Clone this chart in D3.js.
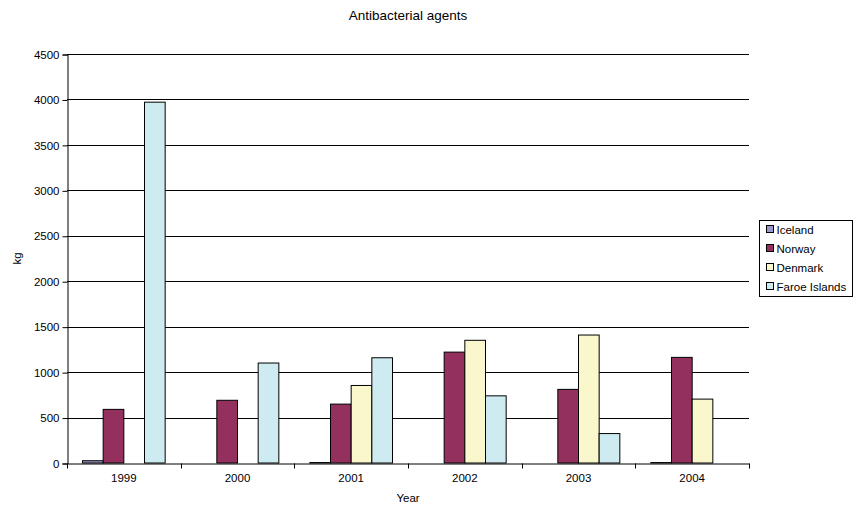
<!DOCTYPE html>
<html>
<head>
<meta charset="utf-8">
<script src="https://cdn.jsdelivr.net/npm/d3@7"></script>
<style>
  html, body { margin: 0; padding: 0; background: #fff; }
  svg text { font-family: "Liberation Sans", Arial, sans-serif; fill: #000; }
</style>
</head>
<body>
<svg id="chart" width="854" height="507"></svg>
<script>
// Antibacterial agents used, kg per year and country
const years = ["1999", "2000", "2001", "2002", "2003", "2004"];
const countries = ["Iceland", "Norway", "Denmark", "Faroe Islands"];
const iceland = [25, 0, 5, 0, 0, 5];
const norway = [590, 690, 648, 1220, 810, 1162];
const denmark = [0, 0, 853, 1350, 1408, 703];
const faroe = [3970, 1100, 1158, 739, 324, 0];
const yTicks = [0, 500, 1000, 1500, 2000, 2500, 3000, 3500, 4000, 4500];
const colors = ["#9999CC", "#93305E", "#FAF7CD", "#CDEBF0"];

const seriesValues = [iceland, norway, denmark, faroe];

const svg = d3.select("#chart");
const margin = { left: 67, right: 105, top: 54, bottom: 44 };
const W = 854, H = 507;
const x0 = margin.left, x1 = W - margin.right;
const yTop = margin.top, yBot = H - margin.bottom;

const x = d3.scaleBand().domain(years).range([x0, x1]).paddingInner(0).paddingOuter(0);
// Clustered bars: 4 bars per category with a gap of 1.5 bar widths
const barW = x.bandwidth() / 5.5;
const y = d3.scaleLinear().domain([0, 4500]).range([yBot, yTop]);

// Gridlines
svg.append("g").selectAll("line").data(yTicks.filter(d => d > 0)).join("line")
  .attr("x1", x0).attr("x2", x1)
  .attr("y1", d => Math.round(y(d)) + 0.5).attr("y2", d => Math.round(y(d)) + 0.5)
  .attr("stroke", "#000").attr("stroke-width", 1);

// Bars
const groups = svg.append("g").selectAll("g").data(years).join("g")
  .attr("transform", d => `translate(${x(d)},0)`);
groups.selectAll("rect")
  .data((yr, i) => countries.map((c, j) => ({ c, j, v: seriesValues[j][i] })).filter(d => d.v > 0))
  .join("rect")
  .attr("x", d => barW * 0.75 + d.j * barW)
  .attr("y", d => y(d.v))
  .attr("width", barW)
  .attr("height", d => yBot - y(d.v))
  .attr("fill", d => colors[d.j])
  .attr("stroke", "#000")
  .attr("stroke-width", 1);

// Axes
const yAxis = d3.axisLeft(y).tickValues(yTicks).tickSize(5).tickPadding(3).tickFormat(d3.format("d"));
const gy = svg.append("g").attr("transform", `translate(${x0 + 0.5},0.5)`).call(yAxis);
gy.selectAll("text").style("font-size", "11.5px");
gy.select(".domain").attr("stroke", "#000");

const xAxis = d3.axisBottom(x).tickSize(0).tickPadding(10);
const gx = svg.append("g").attr("transform", `translate(0,${yBot + 0.5})`).call(xAxis);
gx.selectAll("text").style("font-size", "11.5px");
gx.select(".domain").attr("stroke", "#000");
// Tick marks between categories
gx.append("g").selectAll("line").data(d3.range(years.length + 1)).join("line")
  .attr("x1", i => Math.round(x0 + i * x.bandwidth()) + 0.5)
  .attr("x2", i => Math.round(x0 + i * x.bandwidth()) + 0.5)
  .attr("y1", 0).attr("y2", 5).attr("stroke", "#000");

// Titles
svg.append("text").attr("x", (x0 + x1) / 2).attr("y", 20).attr("text-anchor", "middle")
  .style("font-size", "13.5px").text("Antibacterial agents");
svg.append("text").attr("x", (x0 + x1) / 2).attr("y", 502).attr("text-anchor", "middle")
  .style("font-size", "11.5px").text("Year");
svg.append("text").attr("transform", `translate(21,${(yTop + yBot) / 2}) rotate(-90)`)
  .attr("text-anchor", "middle").style("font-size", "11.5px").text("kg");

// Legend
const lg = svg.append("g").attr("transform", "translate(759.5,220.5)");
lg.append("rect").attr("width", 93).attr("height", 76).attr("fill", "#fff").attr("stroke", "#000");
const items = lg.selectAll("g").data(countries).join("g")
  .attr("transform", (d, i) => `translate(7,${9 + i * 19})`);
items.append("rect").attr("x", 0).attr("y", -4).attr("width", 7).attr("height", 7)
  .attr("fill", (d, i) => colors[i]).attr("stroke", "#000");
items.append("text").attr("x", 10).attr("y", 4).style("font-size", "11.5px").text(d => d);
</script>
</body>
</html>
